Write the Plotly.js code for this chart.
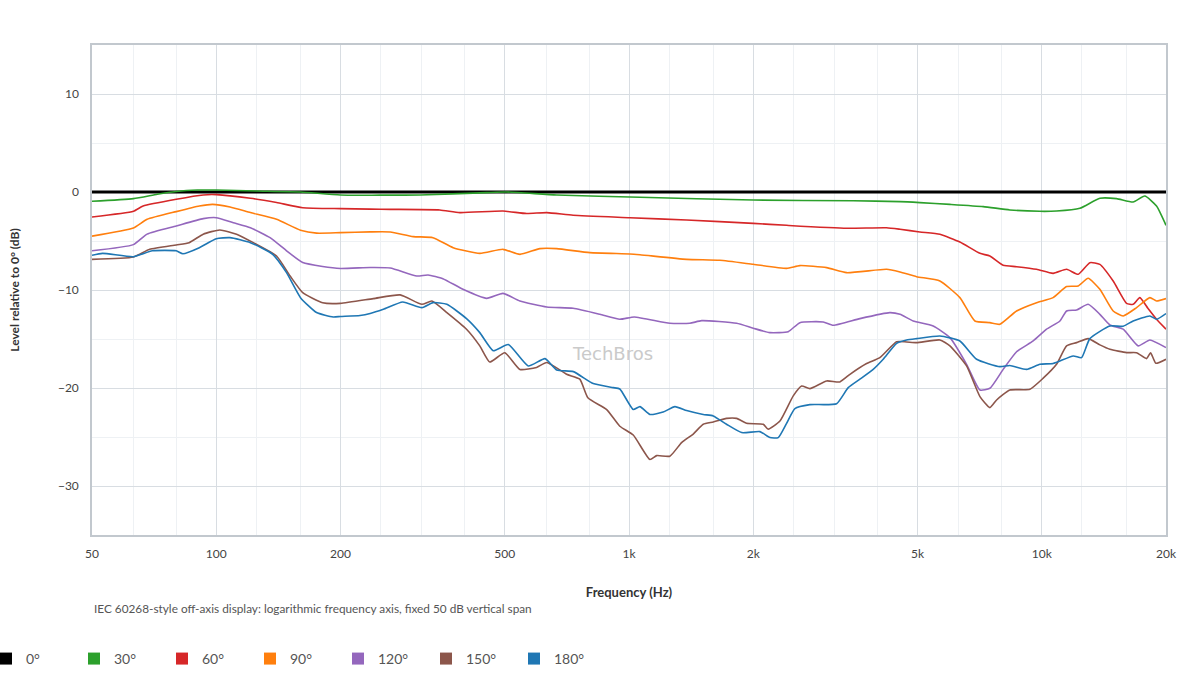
<!DOCTYPE html>
<html>
<head>
<meta charset="utf-8">
<script src="https://cdn.plot.ly/plotly-3.0.1.min.js"></script>
<style>
  html, body { margin: 0; padding: 0; background: #fff; }
  #chart { width: 1200px; height: 700px; }
</style>
</head>
<body>
<div id="chart"></div>
<script>
// off-axis levels relative to the on-axis response
const F0 = [50, 20000];
const DB0 = [0, 0];

const F30 = [50, 63, 72, 80, 90, 100, 125, 160, 200, 312, 452, 505, 668, 1063, 2000, 3490, 4535, 5067, 5990, 7216, 8370, 9895, 10860, 12370, 13830, 15180, 16650, 17770, 18970, 20000];
const DB30 = [-0.95, -0.68, -0.23, 0.05, 0.2, 0.2, 0.1, 0.0, -0.3, -0.3, -0.06, 0.0, -0.3, -0.54, -0.82, -0.9, -0.98, -1.08, -1.26, -1.49, -1.83, -1.97, -1.94, -1.66, -0.64, -0.68, -1.02, -0.41, -1.43, -3.4];

const F60 = [50, 63, 66.5, 80, 93, 100, 121, 140, 162, 200, 236, 264, 348, 389, 495, 565, 632, 732, 1005, 1379, 2000, 2409, 3367, 4207, 4535, 5067, 5666, 6334, 7084, 7488, 8063, 8690, 9714, 10655, 11487, 12255, 13076, 13830, 14896, 16050, 16650, 17285, 18100, 18970, 20000];
const DB60 = [-2.55, -1.97, -1.43, -0.74, -0.3, -0.27, -0.64, -1.08, -1.6, -1.7, -1.75, -1.77, -1.83, -2.1, -1.94, -2.2, -2.1, -2.38, -2.62, -2.86, -3.2, -3.4, -3.7, -3.65, -3.8, -4.08, -4.32, -5.1, -6.26, -6.53, -7.48, -7.62, -7.89, -8.3, -7.89, -8.4, -7.21, -7.38, -9.08, -11.36, -11.46, -10.78, -11.9, -12.99, -14.0];

const F90 = [50, 63, 68, 80, 91, 98, 108, 121, 140, 160, 175, 200, 236, 264, 300, 335, 375, 435, 495, 544, 608, 668, 804, 1005, 1063, 1379, 1660, 2000, 2409, 2594, 3012, 3367, 4207, 4535, 4975, 5666, 6334, 6886, 7488, 7917, 8690, 9714, 10655, 11487, 12255, 12953, 13830, 14896, 15750, 16970, 18280, 18970, 20000];
const DB90 = [-4.5, -3.67, -2.79, -2.0, -1.43, -1.26, -1.53, -2.1, -2.79, -3.9, -4.2, -4.15, -4.07, -4.08, -4.55, -4.66, -5.68, -6.26, -5.85, -6.36, -5.78, -5.78, -6.19, -6.32, -6.4, -6.87, -6.97, -7.38, -7.79, -7.51, -7.72, -8.23, -7.89, -8.16, -8.64, -9.08, -10.78, -13.16, -13.33, -13.5, -12.14, -11.29, -10.78, -9.65, -9.59, -8.8, -9.93, -12.14, -12.65, -11.8, -10.78, -11.12, -10.88];

const F120 = [50, 63, 68, 80, 93, 100, 110, 121, 135, 148, 162, 181, 200, 236, 264, 306, 326, 354, 396, 452, 495, 544, 632, 732, 850, 950, 1030, 1256, 1404, 1500, 1823, 2000, 2195, 2431, 2594, 2955, 3125, 3626, 4286, 4535, 4881, 5457, 5991, 6575, 7084, 7488, 8063, 8690, 9533, 10270, 11066, 11487, 12146, 12953, 13830, 14625, 15750, 17122, 18280, 20000];
const DB120 = [-6.0, -5.37, -4.3, -3.47, -2.72, -2.62, -3.13, -3.64, -4.66, -6.0, -7.2, -7.6, -7.8, -7.7, -7.75, -8.57, -8.47, -8.84, -9.93, -10.85, -10.34, -11.12, -11.73, -11.87, -12.48, -12.99, -12.75, -13.4, -13.4, -13.13, -13.4, -13.9, -14.35, -14.25, -13.33, -13.26, -13.6, -12.92, -12.31, -12.48, -13.16, -13.67, -14.86, -17.58, -20.2, -20.03, -18.1, -16.3, -15.2, -14.0, -13.16, -12.14, -12.04, -11.46, -12.48, -13.57, -14.0, -15.7, -15.1, -15.88];

const F150 = [50, 63, 69, 80, 86, 93, 102, 112, 123, 140, 151, 162, 181, 200, 240, 279, 315, 333, 362, 404, 435, 460, 500, 544, 597, 632, 706, 760, 795, 883, 950, 1024, 1124, 1167, 1256, 1341, 1431, 1513, 1600, 1723, 1823, 1927, 2115, 2174, 2321, 2500, 2619, 2743, 3012, 3243, 3430, 3764, 4053, 4450, 4705, 4975, 5666, 5991, 6575, 7084, 7488, 7773, 8369, 9358, 10080, 10858, 11487, 12146, 12953, 13830, 14625, 16050, 16970, 17940, 18350, 18900, 20000];
const DB150 = [-6.87, -6.63, -5.85, -5.4, -5.17, -4.3, -3.87, -4.3, -5.17, -6.53, -8.57, -10.27, -11.3, -11.36, -10.88, -10.5, -11.46, -11.12, -12.3, -14.0, -15.7, -17.35, -16.4, -18.1, -17.9, -17.4, -18.6, -19.1, -21.0, -22.2, -23.9, -24.8, -27.3, -26.9, -26.96, -25.57, -24.7, -23.7, -23.47, -23.1, -23.1, -23.6, -23.7, -24.2, -23.37, -20.8, -19.8, -20.06, -19.28, -19.38, -18.6, -17.5, -16.9, -15.27, -15.3, -15.37, -15.1, -15.7, -17.75, -20.88, -22.0, -21.22, -20.2, -20.13, -19.0, -17.58, -15.7, -15.37, -14.96, -15.6, -16.05, -16.39, -16.4, -17.0, -16.4, -17.48, -17.07];

const F180 = [50, 53, 63, 70, 80, 83, 91, 100, 108, 121, 137, 148, 160, 175, 192, 200, 223, 236, 254, 283, 315, 335, 362, 404, 435, 469, 510, 570, 626, 668, 733, 819, 916, 950, 1024, 1063, 1124, 1210, 1292, 1379, 1513, 1600, 1723, 1875, 2076, 2195, 2299, 2409, 2523, 2743, 3184, 3397, 3626, 3905, 4129, 4450, 4705, 4975, 5666, 6334, 6953, 7917, 8369, 9190, 9895, 10655, 11920, 12486, 13076, 14625, 15750, 16652, 18280, 18970, 20000];
const DB180 = [-6.46, -6.26, -6.6, -6.0, -6.0, -6.3, -5.68, -4.76, -4.66, -5.17, -6.36, -8.23, -10.78, -12.3, -12.75, -12.7, -12.6, -12.4, -11.97, -11.22, -11.8, -11.29, -11.46, -12.92, -14.35, -16.2, -15.57, -17.75, -17.0, -18.16, -18.33, -19.55, -19.96, -20.1, -22.2, -21.9, -22.7, -22.45, -21.9, -22.3, -22.7, -22.85, -23.7, -24.55, -24.45, -25.06, -25.06, -23.6, -22.1, -21.7, -21.6, -19.96, -19.1, -18.1, -17.07, -15.44, -15.1, -14.96, -14.69, -15.2, -17.07, -17.82, -17.7, -18.1, -17.58, -17.5, -16.73, -16.9, -14.96, -13.67, -13.7, -13.16, -12.65, -12.99, -12.41];

const ANGLES = ['0°', '30°', '60°', '90°', '120°', '150°', '180°'];
const COLORS = ['#000000', '#2ca02c', '#d62728', '#ff7f0e', '#9467bd', '#8c564b', '#1f77b4'];

const X_TICKS = [50, 100, 200, 500, 1000, 2000, 5000, 10000, 20000];
const X_TICK_TEXT = ['50', '100', '200', '500', '1k', '2k', '5k', '10k', '20k'];
const X_MINOR = [63, 80, 125, 160, 250, 315, 400, 630, 800, 1250, 1600, 2500, 3150, 4000, 6300, 8000, 12500, 16000];
const Y_TICKS = [-30, -20, -10, 0, 10];

const series = [
  [F0, DB0], [F30, DB30], [F60, DB60], [F90, DB90],
  [F120, DB120], [F150, DB150], [F180, DB180]
];

const traces = [];
series.forEach(([f, db], i) => {
  traces.push({
    type: 'scatter', mode: 'lines',
    x: f, y: db,
    name: ANGLES[i], legendgroup: ANGLES[i], showlegend: false,
    line: { color: COLORS[i], width: i === 0 ? 3 : 1.6, shape: i === 0 ? 'linear' : 'spline', smoothing: 0.5 },
    hovertemplate: '%{x:.0f} Hz<br>%{y:.1f} dB<extra>' + ANGLES[i] + '</extra>',
  });
});
// legend entries drawn as square swatches
ANGLES.forEach((a, i) => {
  traces.push({
    type: 'scatter', mode: 'markers',
    x: [null], y: [null],
    name: a, legendgroup: a,
    marker: { symbol: 'square', size: 12, color: COLORS[i] },
    hoverinfo: 'skip',
  });
});

const FONT = 'Lato, "Open Sans", "DejaVu Sans", sans-serif';

const layout = {
  width: 1200, height: 700,
  paper_bgcolor: '#ffffff',
  plot_bgcolor: '#ffffff',
  margin: { l: 92, r: 34, t: 45, b: 165, autoexpand: false },
  font: { family: FONT, size: 12, color: '#444' },
  showlegend: true,
  xaxis: {
    type: 'log',
    range: [Math.log10(50), Math.log10(20000)],
    tickmode: 'array', tickvals: X_TICKS, ticktext: X_TICK_TEXT,
    ticks: '', ticklabelstandoff: 7,
    tickfont: { size: 12, color: '#444' },
    showline: true, mirror: true, linecolor: '#c2c8ce', linewidth: 1.5,
    showgrid: true, gridcolor: '#d8dde2', gridwidth: 1,
    minor: { tickmode: 'array', tickvals: X_MINOR, showgrid: true, gridcolor: '#eef1f4', gridwidth: 1, ticks: '' },
    zeroline: false,
    title: { text: 'Frequency (Hz)', font: { size: 13, color: '#333', weight: 700 }, standoff: 28 },
  },
  yaxis: {
    range: [-35, 15],
    tickmode: 'array', tickvals: Y_TICKS,
    ticks: '', ticklabelstandoff: 9,
    tickfont: { size: 12, color: '#444' },
    showline: true, mirror: true, linecolor: '#c2c8ce', linewidth: 1.5,
    showgrid: true, gridcolor: '#d8dde2', gridwidth: 1,
    minor: { dtick: 5, showgrid: true, gridcolor: '#eef1f4', gridwidth: 1, ticks: '' },
    zeroline: false,
    title: { text: 'Level relative to 0° (dB)', font: { size: 12, color: '#333', weight: 700 }, standoff: 36 },
  },
  legend: {
    orientation: 'h',
    x: -0.0987, xanchor: 'left',
    y: -0.253, yanchor: 'middle',
    font: { size: 14, color: '#555' },
    entrywidth: 43, entrywidthmode: 'pixels',
    itemclick: 'toggle',
  },
  annotations: [
    {
      xref: 'paper', yref: 'paper', x: 0, y: -0.151,
      xanchor: 'left', yanchor: 'middle', showarrow: false,
      text: 'IEC 60268-style off-axis display: logarithmic frequency axis, fixed 50 dB vertical span',
      font: { size: 11.8, color: '#555' },
    },
    {
      xref: 'paper', yref: 'paper', x: 0.485, y: 0.371,
      xanchor: 'center', yanchor: 'middle', showarrow: false,
      text: 'TechBros',
      font: { family: '"DejaVu Sans", sans-serif', size: 18, color: '#cacaca' },
    },
  ],
};

Plotly.newPlot('chart', traces, layout, { responsive: false, displayModeBar: false });
</script>
</body>
</html>
